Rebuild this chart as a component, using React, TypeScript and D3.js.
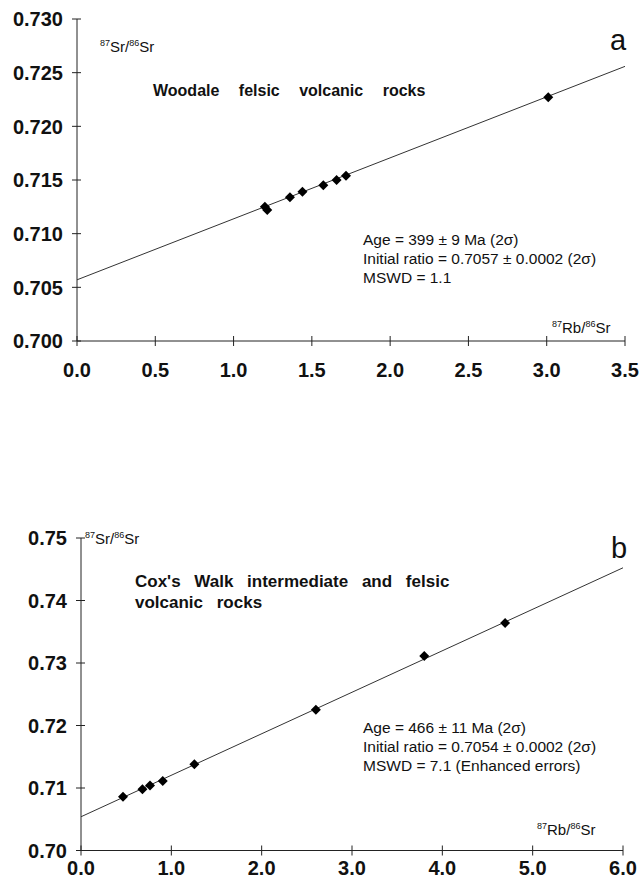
import React from "react";
import * as d3 from "d3";

// Rb decay constant (per year) used to turn an isochron age into a slope
const LAMBDA_RB = 1.42e-11;

// Panel a: Woodale felsic volcanic rocks
const woodaleRbSr = [1.2, 1.215, 1.36, 1.44, 1.573, 1.658, 1.718, 3.01];
const woodaleSrSr = [0.7125, 0.7122, 0.7134, 0.7139, 0.7145, 0.715, 0.7154, 0.7227];
const woodaleAgeMa = 399;
const woodaleInitial = 0.7057;
const woodaleXTicks = [0, 0.5, 1, 1.5, 2, 2.5, 3, 3.5];
const woodaleYTicks = [0.7, 0.705, 0.71, 0.715, 0.72, 0.725, 0.73];
const woodaleStats = [
  "Age = 399 ± 9 Ma (2σ)",
  "Initial ratio = 0.7057 ± 0.0002 (2σ)",
  "MSWD = 1.1",
];

// Panel b: Cox's Walk intermediate and felsic volcanic rocks
const coxRbSr = [0.465, 0.68, 0.764, 0.905, 1.255, 2.6, 3.8, 4.695];
const coxSrSr = [0.7086, 0.7098, 0.7104, 0.7111, 0.7138, 0.7225, 0.7311, 0.7364];
const coxAgeMa = 466;
const coxInitial = 0.7054;
const coxXTicks = [0, 1, 2, 3, 4, 5, 6];
const coxYTicks = [0.7, 0.71, 0.72, 0.73, 0.74, 0.75];
const coxStats = [
  "Age = 466 ± 11 Ma (2σ)",
  "Initial ratio = 0.7054 ± 0.0002 (2σ)",
  "MSWD = 7.1 (Enhanced errors)",
];

const FONT = "'Liberation Sans', Arial, Helvetica, sans-serif";

type PanelProps = {
  rb: number[];
  sr: number[];
  ageMa: number;
  initial: number;
  xTicks: number[];
  yTicks: number[];
  xFormat: (v: number) => string;
  yFormat: (v: number) => string;
  xRange: [number, number];
  yRange: [number, number];
  stats: string[];
  statsPos: [number, number];
  titleLines: string[];
  titlePos: [number, number];
  titleSize: number;
  titleWordSpacing: number;
  letter: string;
  letterPos: [number, number];
  yLabelPos: [number, number];
  xLabelPos: [number, number];
  xTickLabelY: number;
};

function RatioLabel({ x, y, top }: { x: number; y: number; top: string }) {
  return (
    <text x={x} y={y} fontFamily={FONT} fontSize={15} fill="#111">
      <tspan fontSize={9} dy={-6}>87</tspan>
      <tspan dy={6}>{top}/</tspan>
      <tspan fontSize={9} dy={-6}>86</tspan>
      <tspan dy={6}>Sr</tspan>
    </text>
  );
}

function IsochronPanel(p: PanelProps) {
  const xDomain = [p.xTicks[0], p.xTicks[p.xTicks.length - 1]];
  const yDomain = [p.yTicks[0], p.yTicks[p.yTicks.length - 1]];
  const x = d3.scaleLinear().domain(xDomain).range(p.xRange);
  const y = d3.scaleLinear().domain(yDomain).range(p.yRange);

  // isochron: intercept is the initial ratio, slope from the age
  const slope = Math.exp(LAMBDA_RB * p.ageMa * 1e6) - 1;
  const linePts: [number, number][] = [
    [xDomain[0], p.initial + slope * xDomain[0]],
    [xDomain[1], p.initial + slope * xDomain[1]],
  ];
  const line = d3
    .line<[number, number]>()
    .x((d) => x(d[0]))
    .y((d) => y(d[1]));

  const diamond = d3.symbol().type(d3.symbolSquare).size(50)();

  const x0 = x(xDomain[0]);
  const y0 = y(yDomain[0]);

  return (
    <g>
      {/* axes */}
      <line x1={x0} x2={x0} y1={y(yDomain[1])} y2={y0} stroke="#222" strokeWidth={1} />
      <line x1={x0} x2={x(xDomain[1])} y1={y0} y2={y0} stroke="#222" strokeWidth={1} />
      {p.yTicks.map((t) => (
        <g key={"y" + t}>
          <line x1={x0 - 5} x2={x0 + 4} y1={y(t)} y2={y(t)} stroke="#222" strokeWidth={1} />
          <text
            x={x0 - 14}
            y={y(t)}
            dy="0.36em"
            textAnchor="end"
            fontFamily={FONT}
            fontWeight="bold"
            fontSize={20}
            fill="#111"
          >
            {p.yFormat(t)}
          </text>
        </g>
      ))}
      {p.xTicks.map((t) => (
        <g key={"x" + t}>
          <line x1={x(t)} x2={x(t)} y1={y0 - 5} y2={y0 + 5} stroke="#222" strokeWidth={1} />
          <text
            x={x(t)}
            y={p.xTickLabelY}
            textAnchor="middle"
            fontFamily={FONT}
            fontWeight="bold"
            fontSize={20}
            fill="#111"
          >
            {p.xFormat(t)}
          </text>
        </g>
      ))}

      {/* isochron line */}
      <path d={line(linePts) ?? ""} fill="none" stroke="#333" strokeWidth={1} />

      {/* samples */}
      {p.rb.map((v, i) => (
        <path
          key={"p" + i}
          d={diamond ?? ""}
          transform={`translate(${x(v)},${y(p.sr[i])}) rotate(45)`}
          fill="#000"
        />
      ))}

      {/* axis labels */}
      <RatioLabel x={p.yLabelPos[0]} y={p.yLabelPos[1]} top="Sr" />
      <RatioLabel x={p.xLabelPos[0]} y={p.xLabelPos[1]} top="Rb" />

      {/* title */}
      {p.titleLines.map((s, i) => (
        <text
          key={"t" + i}
          x={p.titlePos[0]}
          y={p.titlePos[1] + i * 21}
          fontFamily={FONT}
          fontWeight="bold"
          fontSize={p.titleSize}
          fill="#111"
          style={{ wordSpacing: p.titleWordSpacing + "px" }}
        >
          {s}
        </text>
      ))}

      {/* panel letter */}
      <text x={p.letterPos[0]} y={p.letterPos[1]} fontFamily={FONT} fontSize={29} fill="#111">
        {p.letter}
      </text>

      {/* regression statistics */}
      {p.stats.map((s, i) => (
        <text
          key={"s" + i}
          x={p.statsPos[0]}
          y={p.statsPos[1] + i * 19}
          fontFamily={FONT}
          fontSize={15.5}
          fill="#111"
        >
          {s}
        </text>
      ))}
    </g>
  );
}

export default function App() {
  return (
    <svg
      width={640}
      height={890}
      viewBox="0 0 640 890"
      style={{ position: "absolute", left: 0, top: 0, background: "#fff" }}
    >
      <rect width={640} height={890} fill="#fff" />
      <IsochronPanel
        rb={woodaleRbSr}
        sr={woodaleSrSr}
        ageMa={woodaleAgeMa}
        initial={woodaleInitial}
        xTicks={woodaleXTicks}
        yTicks={woodaleYTicks}
        xFormat={d3.format(".1f")}
        yFormat={d3.format(".3f")}
        xRange={[77, 625]}
        yRange={[341, 19]}
        stats={woodaleStats}
        statsPos={[363, 245]}
        titleLines={["Woodale felsic volcanic rocks"]}
        titlePos={[153, 96]}
        titleSize={16}
        titleWordSpacing={15}
        letter="a"
        letterPos={[610, 50]}
        yLabelPos={[100, 52]}
        xLabelPos={[552, 333]}
        xTickLabelY={377}
      />
      <IsochronPanel
        rb={coxRbSr}
        sr={coxSrSr}
        ageMa={coxAgeMa}
        initial={coxInitial}
        xTicks={coxXTicks}
        yTicks={coxYTicks}
        xFormat={d3.format(".1f")}
        yFormat={d3.format(".2f")}
        xRange={[81, 623]}
        yRange={[850.5, 538]}
        stats={coxStats}
        statsPos={[363, 733]}
        titleLines={["Cox's Walk intermediate and felsic", "volcanic rocks"]}
        titlePos={[135, 587]}
        titleSize={17}
        titleWordSpacing={9}
        letter="b"
        letterPos={[611, 558]}
        yLabelPos={[85, 544]}
        xLabelPos={[537, 835]}
        xTickLabelY={875}
      />
    </svg>
  );
}
